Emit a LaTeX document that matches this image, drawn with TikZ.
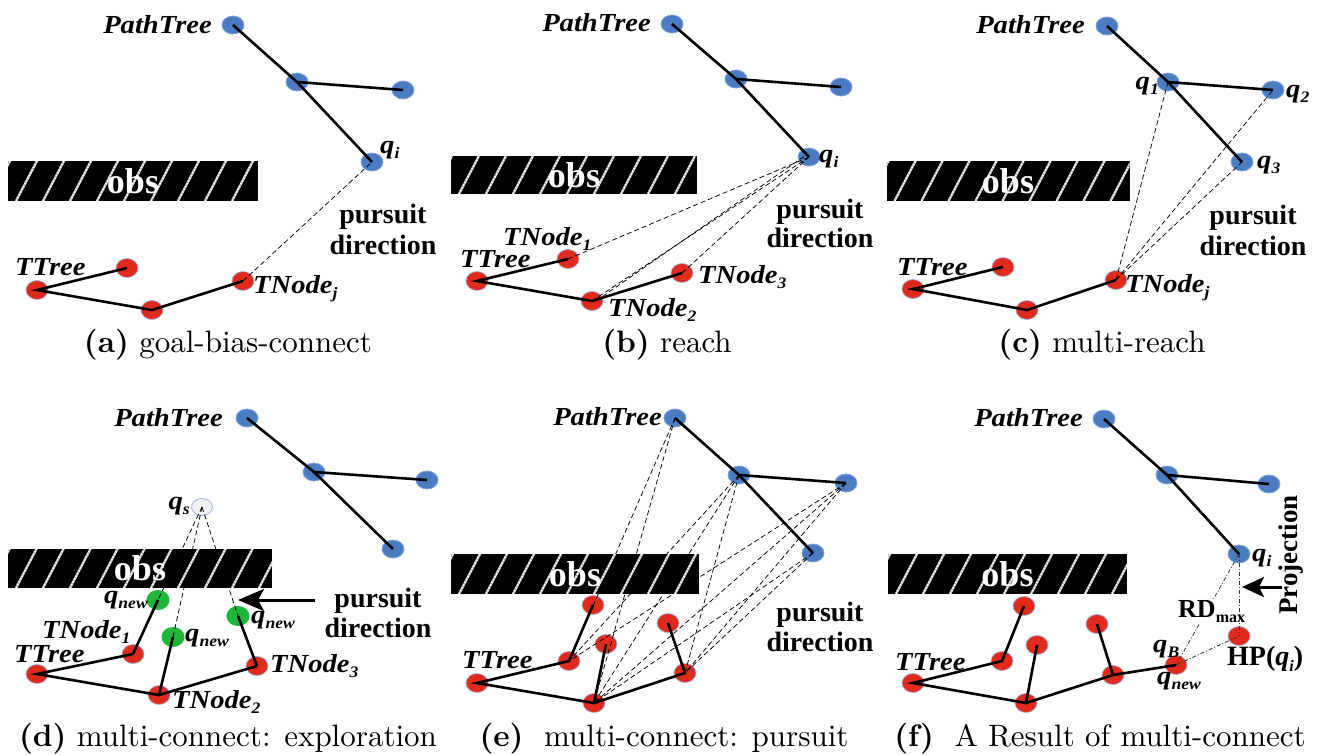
\documentclass[tikz,border=0pt]{standalone}
\usepackage{fontspec}
\usetikzlibrary{arrows.meta,shapes.geometric}
\newfontfamily\tnr{Liberation Serif}
\newfontfamily\tnrx{Liberation Serif}[FakeStretch=1.1]
\newfontfamily\capfont{lmroman10-regular.otf}[BoldFont=lmroman10-bold.otf]
% small lowered index for labels such as q_i, TNode_2, RD_max
\newcommand\sbs[1]{\raisebox{-0.22em}{\fontsize{16}{16}\selectfont #1}}
\definecolor{ptblue}{HTML}{4A7CC4}
\definecolor{ttred}{HTML}{E02A1C}
\definecolor{rimblue}{HTML}{9DB5E0}
\definecolor{newgreen}{HTML}{1FB536}
\tikzset{
  pnode/.style={ellipse, fill=ptblue, draw=ptblue!70, line width=0.8, minimum width=22, minimum height=18, inner sep=0},
  tnode/.style={ellipse, fill=ttred, draw=rimblue, line width=0.7, minimum width=22, minimum height=19, inner sep=0},
  gnode/.style={ellipse, fill=newgreen, minimum width=23, minimum height=20, inner sep=0},
  snode/.style={ellipse, fill=black!5, draw=rimblue, line width=0.8, minimum width=21, minimum height=17, inner sep=0},
  tree/.style={line width=2.6, black},
  dsh/.style={line width=0.75, dash pattern=on 5 off 3},
  dd/.style={line width=0.8, black!80, dash pattern=on 4 off 2 on 1 off 2},
  bigarrow/.style={line width=3, -{Stealth[length=26,width=22,inset=6]}},
  lbl/.style={inner sep=0, font=\tnrx\bfseries\itshape\fontsize{26}{26}\selectfont},
  dirtxt/.style={inner sep=0, font=\tnr\bfseries\fontsize{28}{28}\selectfont},
  captxt/.style={inner sep=0, font=\capfont\fontsize{31}{31}\selectfont},
  obstacle/.style={fill=black, inner sep=0, text=white,
    font=\tnr\bfseries\fontsize{36}{36}\selectfont,
    path picture={
      \foreach \k in {-2,...,10}{
        \draw[black!30, line width=2.4]
          ([xshift=\k*27pt+8pt]path picture bounding box.south west) -- ++(22pt,42pt);
        \draw[white, line width=1.6, dash pattern=on 1.6 off 1.5]
          ([xshift=\k*27pt+8pt]path picture bounding box.south west) -- ++(22pt,42pt);
      }
    }},
}
\begin{document}
\begin{tikzpicture}[x=1pt,y=-1pt]
\useasboundingbox[fill=white] (0,0) rectangle (1320,755);

%% ---------------- (a) goal-bias-connect ----------------
\node[pnode] (a-p0) at (233,25) {};
\node[pnode] (a-p1) at (297,82) {};
\node[pnode] (a-p2) at (403,90) {};
\node[pnode] (a-qi) at (372,162) {};
\node[tnode] (a-r0) at (37,290) {};
\node[tnode] (a-r1) at (127,268) {};
\node[tnode] (a-r2) at (152,310) {};
\node[tnode] (a-tj) at (243,281) {};
\draw[dsh] (a-tj.center) -- (a-qi.center);
\draw[tree] (a-p0.center) -- (a-p1.center) -- (a-qi.center);
\draw[tree] (a-p1.center) -- (a-p2.center);
\draw[tree] (a-r1.center) -- (a-r0.center) -- (a-r2.center) -- (a-tj.center);
\node[obstacle, minimum width=250, minimum height=40] (a-obs) at (133,181) {obs};
\node[lbl, anchor=base east] (a-pt) at (212,33) {PathTree};
\node[lbl, anchor=base west] (a-qil) at (380,153) {q\sbs{i}};
\node[lbl, anchor=base west] (a-tt) at (15,275) {TTree};
\node[lbl, anchor=base west] (a-tjl) at (253,293) {TNode\sbs{j}};
\node[dirtxt, anchor=base] (a-pu) at (383,223) {pursuit};
\node[dirtxt, anchor=base] (a-di) at (383,254) {direction};
\node[captxt, anchor=base] (a-cap) at (228,352) {\textbf{(a)} goal-bias-connect};

%% ---------------- (b) reach ----------------
\node[pnode] (b-p0) at (672,24) {};
\node[pnode] (b-p1) at (736,79) {};
\node[pnode] (b-p2) at (841,87) {};
\node[pnode] (b-qi) at (809,157) {};
\node[tnode] (b-r0) at (477,281) {};
\node[tnode] (b-n1) at (568,259) {};
\node[tnode] (b-n2) at (592,301) {};
\node[tnode] (b-n3) at (682,273) {};
\draw[dsh] (b-n1.center) -- (b-qi.center);
\draw[dsh] (b-n2.center) -- (b-qi.center);
\draw[dsh] ([xshift=4]b-n2.center) -- ([xshift=-3,yshift=2]b-qi.center);
\draw[dsh] (b-n3.center) -- (b-qi.center);
\draw[tree] (b-p0.center) -- (b-p1.center) -- (b-qi.center);
\draw[tree] (b-p1.center) -- (b-p2.center);
\draw[tree] (b-n1.center) -- (b-r0.center) -- (b-n2.center) -- (b-n3.center);
\node[obstacle, minimum width=246, minimum height=38] (b-obs) at (574,175) {obs};
\node[lbl, anchor=base east] (b-pt) at (651,31) {PathTree};
\node[lbl, anchor=base west] (b-qil) at (819,162) {q\sbs{i}};
\node[lbl, anchor=base west] (b-n1l) at (503,245) {TNode\sbs{1}};
\node[lbl, anchor=base west] (b-tt) at (460,267) {TTree};
\node[lbl, anchor=base west] (b-n3l) at (698,283) {TNode\sbs{3}};
\node[lbl, anchor=base west] (b-n2l) at (608,316) {TNode\sbs{2}};
\node[dirtxt, anchor=base] (b-pu) at (820,218) {pursuit};
\node[dirtxt, anchor=base] (b-di) at (820,247) {direction};
\node[captxt, anchor=base] (b-cap) at (667,352) {\textbf{(b)} reach};

%% ---------------- (c) multi-reach ----------------
\node[pnode] (c-p0) at (1107,26) {};
\node[pnode] (c-q1) at (1168,82) {};
\node[pnode] (c-q2) at (1273,90) {};
\node[pnode] (c-q3) at (1242,162) {};
\node[tnode] (c-r0) at (913,289) {};
\node[tnode] (c-r1) at (1003,267) {};
\node[tnode] (c-r2) at (1027,310) {};
\node[tnode] (c-tj) at (1116,280) {};
\draw[dsh] (c-tj.center) -- (c-q1.center);
\draw[dsh] (c-tj.center) -- (c-q2.center);
\draw[dsh] (c-tj.center) -- (c-q3.center);
\draw[tree] (c-p0.center) -- (c-q1.center) -- (c-q3.center);
\draw[tree] (c-q1.center) -- (c-q2.center);
\draw[tree] (c-r1.center) -- (c-r0.center) -- (c-r2.center) -- (c-tj.center);
\node[obstacle, minimum width=243, minimum height=40] (c-obs) at (1008,181) {obs};
\node[lbl, anchor=base east] (c-pt) at (1085,33) {PathTree};
\node[lbl, anchor=base east] (c-q1l) at (1159,89) {q\sbs{1}};
\node[lbl, anchor=base west] (c-q2l) at (1286,97) {q\sbs{2}};
\node[lbl, anchor=base west] (c-q3l) at (1257,168) {q\sbs{3}};
\node[lbl, anchor=base west] (c-tt) at (897,275) {TTree};
\node[lbl, anchor=base west] (c-tjl) at (1125,292) {TNode\sbs{j}};
\node[dirtxt, anchor=base] (c-pu) at (1253,224) {pursuit};
\node[dirtxt, anchor=base] (c-di) at (1253,255) {direction};
\node[captxt, anchor=base] (c-cap) at (1102,352) {\textbf{(c)} multi-reach};

%% ---------------- (d) multi-connect: exploration ----------------
\node[pnode] (d-p0) at (247,418) {};
\node[pnode] (d-p1) at (314,472) {};
\node[pnode] (d-p2) at (427,480) {};
\node[pnode] (d-p3) at (393,549) {};
\node[snode] (d-qs) at (202,507) {};
\node[gnode] (d-g1) at (158,600) {};
\node[gnode] (d-g2) at (173,637) {};
\node[gnode] (d-g3) at (238,616) {};
\node[tnode] (d-r0) at (37,674) {};
\node[tnode] (d-n1) at (133,654) {};
\node[tnode] (d-n2) at (159,695) {};
\node[tnode] (d-n3) at (257,666) {};
\draw[dsh] (d-qs.center) -- (d-g1.center);
\draw[dsh] (d-qs.center) -- (d-g2.center);
\draw[dsh] (d-qs.center) -- (d-g3.center);
\node[obstacle, minimum width=264, minimum height=39] (d-obs) at (140,568.5) {obs};
\draw[tree] (d-p0.center) -- (d-p1.center) -- (d-p3.center);
\draw[tree] (d-p1.center) -- (d-p2.center);
\draw[tree] (d-n1.center) -- (d-r0.center) -- (d-n2.center) -- (d-n3.center);
\draw[tree] (d-n1.center) -- (d-g1.center);
\draw[tree] (d-n2.center) -- (d-g2.center);
\draw[tree] (d-n3.center) -- (d-g3.center);
\coordinate (d-as) at (315,600);
\coordinate (d-ae) at (238,600);
\draw[bigarrow] (d-as) -- (d-ae);
\node[lbl, anchor=base east] (d-pt) at (223,426) {PathTree};
\node[lbl, anchor=base east] (d-qsl) at (190,509) {q\sbs{s}};
\node[lbl, anchor=base east] (d-g1l) at (148,603) {q\sbs{new}};
\node[lbl, anchor=base west] (d-g2l) at (185,641) {q\sbs{new}};
\node[lbl, anchor=base west] (d-g3l) at (251,623) {q\sbs{new}};
\node[lbl, anchor=base west] (d-n1l) at (42,638) {TNode\sbs{1}};
\node[lbl, anchor=base west] (d-tt) at (14,662) {TTree};
\node[lbl, anchor=base west] (d-n2l) at (172,708) {TNode\sbs{2}};
\node[lbl, anchor=base west] (d-n3l) at (270,672) {TNode\sbs{3}};
\node[dirtxt, anchor=base] (d-pu) at (378,607) {pursuit};
\node[dirtxt, anchor=base] (d-di) at (378,637) {direction};
\node[captxt, anchor=base] (d-cap) at (228,746) {\textbf{(d)} multi-connect: exploration};

%% ---------------- (e) multi-connect: pursuit ----------------
\node[pnode] (e-p0) at (675,418) {};
\node[pnode] (e-p1) at (739,475) {};
\node[pnode] (e-p2) at (846,483) {};
\node[pnode] (e-p3) at (813,553) {};
\node[tnode] (e-r0) at (477,683) {};
\node[tnode] (e-n1) at (569,661) {};
\node[tnode] (e-m1) at (593,605) {};
\node[tnode] (e-n2) at (594,703) {};
\node[tnode] (e-m2) at (606,644) {};
\node[tnode] (e-n3) at (685,673) {};
\node[tnode] (e-m3) at (668,623) {};
\foreach \s/\t in {p0/n1,p0/n2,p1/n1,p1/n2,p1/n3,p2/n1,p2/n2,p2/n3,p3/n2,p3/n3}
  \draw[dsh] (e-\s.center) -- (e-\t.center);
\node[obstacle, minimum width=248, minimum height=40] (e-obs) at (575,574) {obs};
\draw[tree] (e-p0.center) -- (e-p1.center) -- (e-p3.center);
\draw[tree] (e-p1.center) -- (e-p2.center);
\draw[tree] (e-m1.center) -- (e-n1.center) -- (e-r0.center) -- (e-n2.center) -- (e-n3.center) -- (e-m3.center);
\draw[tree] (e-n2.center) -- (e-m2.center);
\node[lbl, anchor=base east] (e-pt) at (662,425) {PathTree};
\node[lbl, anchor=base west] (e-tt) at (462,668) {TTree};
\node[dirtxt, anchor=base] (e-pu) at (820,621) {pursuit};
\node[dirtxt, anchor=base] (e-di) at (820,651) {direction};
\node[captxt, anchor=base] (e-cap) at (664,746) {\textbf{(e)}\ \ multi-connect: pursuit};

%% ---------------- (f) A Result of multi-connect ----------------
\node[pnode] (f-p0) at (1104,419) {};
\node[pnode] (f-p1) at (1167,475) {};
\node[pnode] (f-p2) at (1269,484) {};
\node[pnode] (f-qi) at (1239,554) {};
\node[tnode] (f-r0) at (913,683) {};
\node[tnode] (f-n1) at (1002,661) {};
\node[tnode] (f-m1) at (1024,606) {};
\node[tnode] (f-n2) at (1026,703) {};
\node[tnode] (f-m2) at (1037,645) {};
\node[tnode] (f-n3) at (1113,675) {};
\node[tnode] (f-m3) at (1097,624) {};
\node[tnode] (f-qn) at (1176,665) {};
\node[tnode] (f-hp) at (1239,636) {};
\node[obstacle, minimum width=239, minimum height=40] (f-obs) at (1007.5,574) {obs};
\draw[dd] (f-qi.center) -- (f-qn.center);
\draw[dd] (f-qn.center) -- (f-hp.center);
\node[inner sep=1, fill=white, font=\tnr\bfseries\fontsize{26}{26}\selectfont, anchor=base west] (f-rd) at (1177,617) {RD\sbs{max}};
\draw[dd] (f-qi.center) -- (f-hp.center);
\draw[tree] (f-p0.center) -- (f-p1.center) -- (f-qi.center);
\draw[tree] (f-p1.center) -- (f-p2.center);
\draw[tree] (f-m1.center) -- (f-n1.center) -- (f-r0.center) -- (f-n2.center) -- (f-n3.center) -- (f-qn.center);
\draw[tree] (f-n2.center) -- (f-m2.center);
\draw[tree] (f-n3.center) -- (f-m3.center);
\node[lbl, anchor=base east] (f-pt) at (1083,426) {PathTree};
\node[lbl, anchor=base west] (f-qil) at (1252,561) {q\sbs{i}};
\node[lbl, anchor=base west] (f-tt) at (895,670) {TTree};
\node[lbl, anchor=base west] (f-qbl) at (1153,652) {q\sbs{B}};
\node[lbl, anchor=base west] (f-qnl) at (1157,684) {q\sbs{new}};
\node[dirtxt, anchor=base west] (f-hpl) at (1227,665) {HP(\textit{q\sbs{i}})};
\node[dirtxt, rotate=90, font=\tnr\bfseries\fontsize{27}{27}\selectfont] (f-proj) at (1291,555) {Projection};
\coordinate (f-as) at (1282,587);
\coordinate (f-ae) at (1242,587);
\draw[bigarrow, -{Stealth[length=22,width=20,inset=5]}] (f-as) -- (f-ae);
\node[captxt, anchor=base] (f-cap) at (1100,746) {\textbf{(f)}\ \ A Result of multi-connect};
\end{tikzpicture}
\end{document}
